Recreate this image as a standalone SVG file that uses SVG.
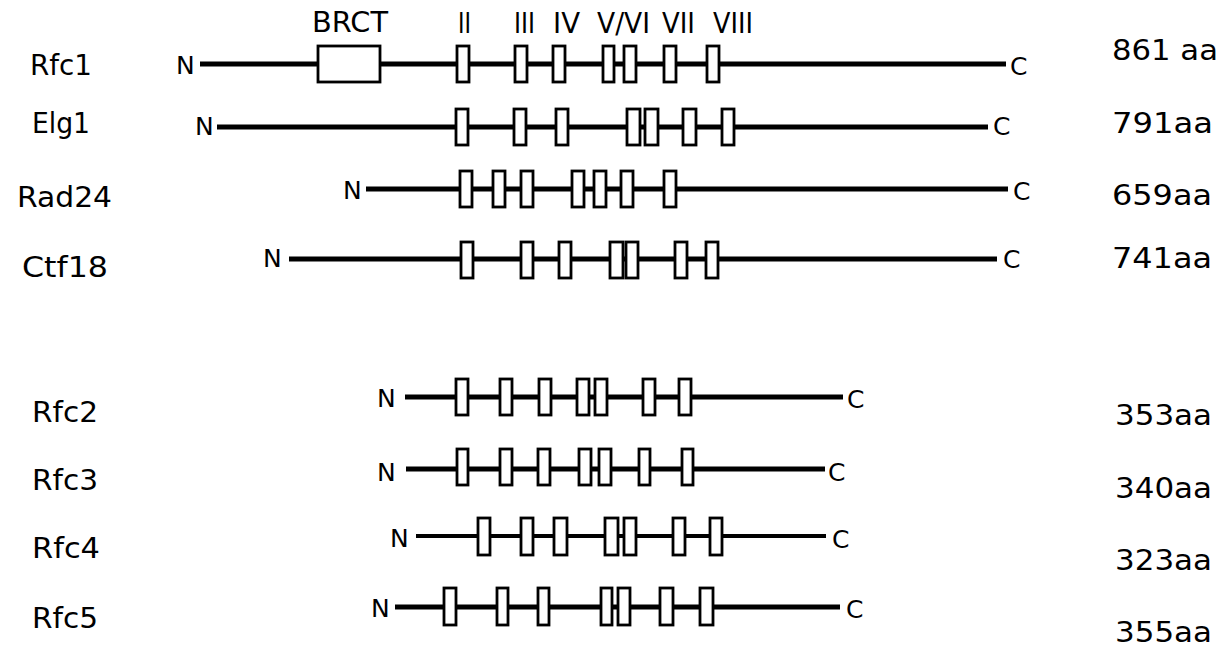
<svg xmlns="http://www.w3.org/2000/svg" width="1227" height="651" viewBox="0 0 1227 651">
  <style>
    text { font-family: "DejaVu Sans", "Liberation Sans", sans-serif; fill: #000; }
    .name { font-size: 28px; }
    .len { font-size: 28px; }
    .top { font-size: 29px; }
    .end { font-size: 25px; }
    .chain { stroke: #000; stroke-width: 5; fill: none; }
    .thin { stroke-width: 4; }
    .motif { fill: #fff; stroke: #000; stroke-width: 2.8; }
  </style>

  <!-- domain header -->
  <g id="header">
    <text class="top" x="312" y="32" textLength="76" lengthAdjust="spacingAndGlyphs">BRCT</text>
    <text class="top" x="458" y="33" textLength="13" lengthAdjust="spacingAndGlyphs">II</text>
    <text class="top" x="514" y="33" textLength="21" lengthAdjust="spacingAndGlyphs">III</text>
    <text class="top" x="553" y="33" textLength="27" lengthAdjust="spacingAndGlyphs">IV</text>
    <text class="top" x="597" y="33" textLength="53" lengthAdjust="spacingAndGlyphs">V/VI</text>
    <text class="top" x="662" y="33" textLength="33" lengthAdjust="spacingAndGlyphs">VII</text>
    <text class="top" x="713" y="33" textLength="40" lengthAdjust="spacingAndGlyphs">VIII</text>
  </g>

  <!-- backbones -->
  <g id="connectors">
    <line class="chain" x1="200" y1="64" x2="1006" y2="64"/>
    <line class="chain" x1="217" y1="127" x2="988" y2="127"/>
    <line class="chain" x1="366" y1="189" x2="1008" y2="189"/>
    <line class="chain" x1="289" y1="259" x2="997" y2="259"/>
    <line class="chain" x1="405" y1="397" x2="843" y2="397"/>
    <line class="chain" x1="406" y1="469" x2="825" y2="469"/>
    <line class="chain thin" x1="416" y1="536" x2="826" y2="536"/>
    <line class="chain" x1="395" y1="607" x2="840" y2="607"/>
  </g>

  <!-- Rfc1 -->
  <g id="rfc1">
    <text class="name" x="30" y="75" textLength="62" lengthAdjust="spacingAndGlyphs">Rfc1</text>
    <text class="end" x="176" y="74">N</text>
    <rect class="motif" x="318" y="46" width="62" height="36"/>
    <rect class="motif" x="457" y="46" width="12" height="36"/>
    <rect class="motif" x="515" y="46" width="12" height="36"/>
    <rect class="motif" x="553" y="46" width="12" height="36"/>
    <rect class="motif" x="603" y="46" width="11" height="36"/>
    <rect class="motif" x="624" y="46" width="12" height="36"/>
    <rect class="motif" x="664" y="46" width="12" height="36"/>
    <rect class="motif" x="707" y="46" width="12" height="36"/>
    <text class="end" x="1010" y="75">C</text>
    <text class="len" x="1112" y="60" textLength="106" lengthAdjust="spacingAndGlyphs">861 aa</text>
  </g>

  <!-- Elg1 -->
  <g id="elg1">
    <text class="name" x="32" y="133" textLength="58" lengthAdjust="spacingAndGlyphs">Elg1</text>
    <text class="end" x="195" y="135">N</text>
    <rect class="motif" x="456" y="109" width="12" height="36"/>
    <rect class="motif" x="514" y="109" width="12" height="36"/>
    <rect class="motif" x="556" y="109" width="12" height="36"/>
    <rect class="motif" x="627" y="109" width="13" height="36"/>
    <rect class="motif" x="645" y="109" width="13" height="36"/>
    <rect class="motif" x="683" y="109" width="13" height="36"/>
    <rect class="motif" x="722" y="109" width="12" height="36"/>
    <text class="end" x="993" y="135">C</text>
    <text class="len" x="1112" y="133" textLength="101" lengthAdjust="spacingAndGlyphs">791aa</text>
  </g>

  <!-- Rad24 -->
  <g id="rad24">
    <text class="name" x="17" y="207" textLength="95" lengthAdjust="spacingAndGlyphs">Rad24</text>
    <text class="end" x="343" y="199">N</text>
    <rect class="motif" x="460" y="171" width="12" height="36"/>
    <rect class="motif" x="493" y="171" width="12" height="36"/>
    <rect class="motif" x="521" y="171" width="12" height="36"/>
    <rect class="motif" x="572" y="171" width="12" height="36"/>
    <rect class="motif" x="594" y="171" width="12" height="36"/>
    <rect class="motif" x="621" y="171" width="12" height="36"/>
    <rect class="motif" x="664" y="171" width="12" height="36"/>
    <text class="end" x="1013" y="200">C</text>
    <text class="len" x="1112" y="205" textLength="100" lengthAdjust="spacingAndGlyphs">659aa</text>
  </g>

  <!-- Ctf18 -->
  <g id="ctf18">
    <text class="name" x="22" y="277" textLength="86" lengthAdjust="spacingAndGlyphs">Ctf18</text>
    <text class="end" x="263" y="267">N</text>
    <rect class="motif" x="461" y="242" width="12" height="36"/>
    <rect class="motif" x="521" y="242" width="12" height="36"/>
    <rect class="motif" x="559" y="242" width="12" height="36"/>
    <rect class="motif" x="610" y="242" width="13" height="36"/>
    <rect class="motif" x="626" y="242" width="12" height="36"/>
    <rect class="motif" x="675" y="242" width="12" height="36"/>
    <rect class="motif" x="706" y="242" width="12" height="36"/>
    <text class="end" x="1003" y="268">C</text>
    <text class="len" x="1112" y="268" textLength="100" lengthAdjust="spacingAndGlyphs">741aa</text>
  </g>

  <!-- Rfc2 -->
  <g id="rfc2">
    <text class="name" x="32" y="422" textLength="66" lengthAdjust="spacingAndGlyphs">Rfc2</text>
    <text class="end" x="377" y="407">N</text>
    <rect class="motif" x="456" y="379" width="12" height="36"/>
    <rect class="motif" x="500" y="379" width="12" height="36"/>
    <rect class="motif" x="539" y="379" width="12" height="36"/>
    <rect class="motif" x="577" y="379" width="12" height="36"/>
    <rect class="motif" x="595" y="379" width="12" height="36"/>
    <rect class="motif" x="643" y="379" width="12" height="36"/>
    <rect class="motif" x="679" y="379" width="12" height="36"/>
    <text class="end" x="847" y="408">C</text>
    <text class="len" x="1115" y="425" textLength="97" lengthAdjust="spacingAndGlyphs">353aa</text>
  </g>

  <!-- Rfc3 -->
  <g id="rfc3">
    <text class="name" x="32" y="490" textLength="66" lengthAdjust="spacingAndGlyphs">Rfc3</text>
    <text class="end" x="377" y="481">N</text>
    <rect class="motif" x="457" y="449" width="11" height="36"/>
    <rect class="motif" x="500" y="449" width="12" height="36"/>
    <rect class="motif" x="538" y="449" width="12" height="36"/>
    <rect class="motif" x="579" y="449" width="12" height="36"/>
    <rect class="motif" x="599" y="449" width="12" height="36"/>
    <rect class="motif" x="639" y="449" width="11" height="36"/>
    <rect class="motif" x="682" y="449" width="11" height="36"/>
    <text class="end" x="828" y="481">C</text>
    <text class="len" x="1115" y="498" textLength="97" lengthAdjust="spacingAndGlyphs">340aa</text>
  </g>

  <!-- Rfc4 -->
  <g id="rfc4">
    <text class="name" x="32" y="558" textLength="68" lengthAdjust="spacingAndGlyphs">Rfc4</text>
    <text class="end" x="390" y="547">N</text>
    <rect class="motif" x="478" y="518" width="12" height="37"/>
    <rect class="motif" x="521" y="518" width="12" height="37"/>
    <rect class="motif" x="554" y="518" width="13" height="37"/>
    <rect class="motif" x="605" y="518" width="13" height="37"/>
    <rect class="motif" x="624" y="518" width="12" height="37"/>
    <rect class="motif" x="673" y="518" width="12" height="37"/>
    <rect class="motif" x="710" y="518" width="12" height="37"/>
    <text class="end" x="832" y="548">C</text>
    <text class="len" x="1115" y="570" textLength="97" lengthAdjust="spacingAndGlyphs">323aa</text>
  </g>

  <!-- Rfc5 -->
  <g id="rfc5">
    <text class="name" x="32" y="628" textLength="66" lengthAdjust="spacingAndGlyphs">Rfc5</text>
    <text class="end" x="371" y="617">N</text>
    <rect class="motif" x="444" y="588" width="12" height="37"/>
    <rect class="motif" x="497" y="588" width="11" height="37"/>
    <rect class="motif" x="538" y="588" width="11" height="37"/>
    <rect class="motif" x="601" y="588" width="11" height="37"/>
    <rect class="motif" x="618" y="588" width="12" height="37"/>
    <rect class="motif" x="660" y="588" width="13" height="37"/>
    <rect class="motif" x="700" y="588" width="13" height="37"/>
    <text class="end" x="846" y="618">C</text>
    <text class="len" x="1115" y="642" textLength="97" lengthAdjust="spacingAndGlyphs">355aa</text>
  </g>
</svg>
